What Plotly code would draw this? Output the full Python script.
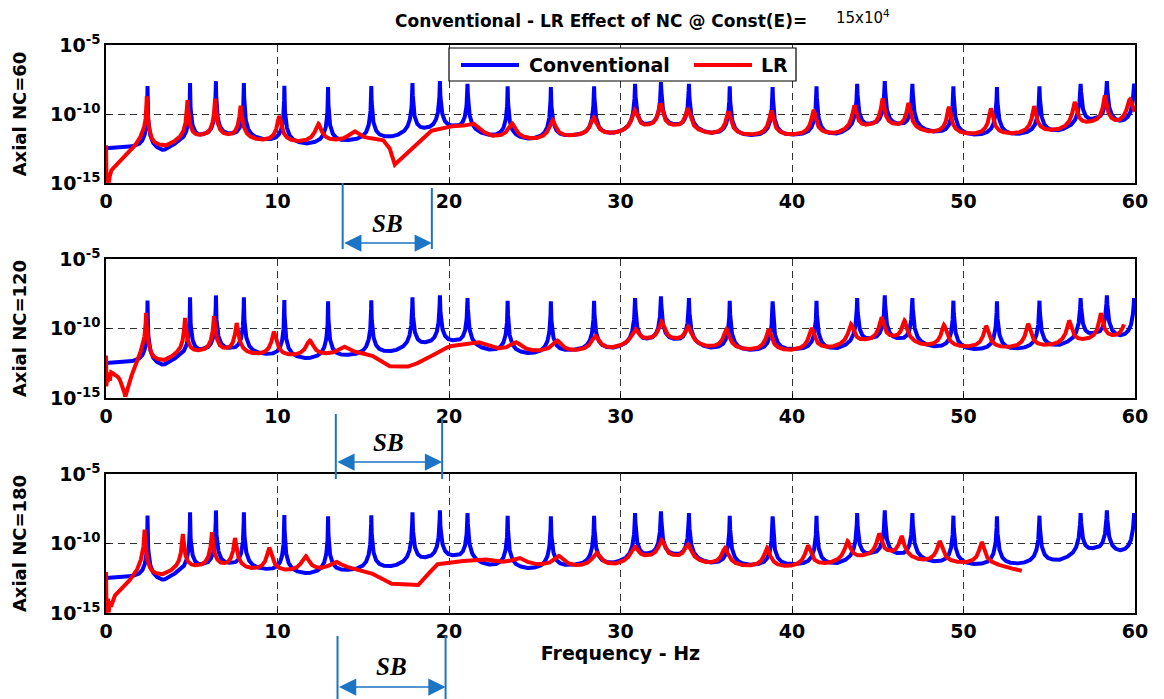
import numpy as np
import plotly.graph_objects as go

# ---------------- data (log10 of amplitude) ----------------
freq_ticks = [0, 10, 20, 30, 40, 50, 60]
amp_tickvals = [1e-15, 1e-10, 1e-5]
amp_ticktext = ["10<sup>-15</sup>", "10<sup>-10</sup>", "10<sup>-5</sup>"]
panel_labels = ["Axial NC=60", "Axial NC=120", "Axial NC=180"]
series_names = ["Conventional", "LR"]
sb_left = [13.8, 13.4, 13.5]
sb_right = [19.0, 19.6, 19.8]

# Conventional (same in the three panels)
conv_peak_freq = [2.42, 4.90, 6.41, 8.04, 10.40, 12.95, 15.47, 17.87, 19.47, 21.08, 23.42, 25.94,
                  28.46, 30.85, 32.36, 33.99, 36.37, 38.87, 41.43, 43.80, 45.41, 47.02, 49.41,
                  51.95, 54.43, 56.83, 58.36, 59.95]
conv_peak_level = [-7.98, -7.76, -7.62, -7.76, -7.95, -8.05, -7.98, -7.76, -7.62, -7.81, -8.00, -8.05,
                   -8.00, -7.81, -7.69, -7.81, -8.00, -8.05, -8.00, -7.81, -7.62, -7.81, -8.00,
                   -8.05, -8.00, -7.81, -7.62, -7.81]
conv_base_freq = [0.0, 1.8, 3.35, 4.1, 5.65, 7.2, 9.2, 11.7, 14.2, 16.7, 18.65, 20.3, 22.3, 24.7,
                  27.2, 29.6, 31.6, 33.2, 35.2, 37.6, 40.1, 42.6, 44.6, 46.2, 48.2, 50.7, 53.2,
                  55.6, 57.6, 59.1, 60.0]
conv_base_level = [-12.52, -12.50, -12.80, -12.30, -11.80, -11.70, -12.00, -12.30, -12.05, -11.80,
                   -11.30, -11.15, -11.70, -11.95, -11.70, -11.55, -11.05, -11.05, -11.55, -11.70,
                   -11.65, -11.60, -11.00, -11.00, -11.45, -11.65, -11.60, -11.35, -10.65, -10.80,
                   -10.70]

# LR, NC = 60
lr60_peak_freq = [2.38, 4.75, 6.36, 7.85, 10.10, 12.38, 14.48, 21.42, 23.67, 26.04, 28.44, 30.83,
                  32.33, 33.92, 36.29, 38.79, 41.26, 43.64, 45.28, 46.79, 49.15, 51.60, 54.12,
                  56.48, 58.24, 59.69]
lr60_peak_level = [-8.71, -9.00, -8.88, -9.40, -10.14, -10.71, -11.26, -10.71, -10.67, -10.43, -10.24,
                   -9.71, -9.24, -9.60, -9.83, -9.76, -9.71, -9.36, -8.88, -9.19, -9.48, -9.60,
                   -9.43, -9.12, -8.64, -8.95]
lr60_base_freq = [0.00, 0.03, 0.06, 0.09, 0.13, 0.17, 0.25, 1.00, 1.60, 2.15, 2.70, 3.50, 4.20,
                  5.55, 7.10, 9.00, 11.20, 13.40, 15.50, 16.10, 16.50, 16.84, 18.86, 20.00, 20.90,
                  22.50, 25.00, 27.30, 29.60, 31.60, 33.10, 35.20, 37.50, 40.00, 42.50, 44.50,
                  46.00, 48.00, 50.50, 53.00, 55.50, 57.40, 59.00, 60.00]
lr60_base_level = [-12.30, -15.00, -13.90, -15.00, -14.30, -15.00, -14.20, -13.30, -12.60, -12.00,
                   -12.45, -12.45, -12.10, -11.80, -11.80, -12.05, -12.15, -12.05, -11.90, -11.90,
                   -12.40, -13.71, -11.30, -10.95, -11.10, -11.75, -11.95, -11.70, -11.55, -11.10,
                   -11.10, -11.55, -11.65, -11.65, -11.55, -11.05, -11.05, -11.45, -11.60, -11.55,
                   -11.30, -10.80, -10.80, -10.45]
lr60_end = 60.0

# LR, NC = 120
lr120_peak_freq = [2.34, 4.61, 6.30, 7.62, 9.79, 11.88, 13.88, 21.70, 23.90, 26.30, 28.53, 30.87,
                   32.39, 33.95, 36.18, 38.64, 41.14, 43.44, 45.22, 46.56, 48.86, 51.32, 53.77,
                   56.16, 58.01, 59.50]
lr120_peak_level = [-8.88, -9.24, -9.12, -9.60, -10.24, -10.86, -11.33, -11.00, -11.00, -10.86,
                    -10.53, -10.05, -9.50, -9.86, -10.05, -10.05, -9.98, -9.69, -9.19, -9.43,
                    -9.74, -9.81, -9.67, -9.43, -8.90, -8.90]
lr120_base_freq = [0.00, 0.02, 0.06, 0.10, 0.15, 0.22, 0.30, 0.45, 0.75, 1.00, 1.12, 1.22, 1.41,
                   1.80, 2.15, 2.70, 3.40, 4.10, 5.45, 7.00, 8.70, 10.90, 12.80, 14.50, 15.40,
                   16.00, 16.50, 17.50, 18.00, 18.60, 19.24, 20.00, 21.00, 22.80, 25.00, 27.30,
                   29.50, 31.60, 33.20, 35.00, 37.40, 39.90, 42.30, 44.30, 45.90, 47.70, 50.10,
                   52.50, 55.00, 57.10, 58.70, 59.35]
lr120_base_level = [-11.98, -14.20, -13.30, -13.90, -13.20, -13.80, -13.20, -13.30, -13.60, -14.30,
                    -15.00, -14.70, -13.76, -12.70, -12.00, -12.45, -12.45, -12.10, -11.85, -11.80,
                    -12.00, -12.10, -12.00, -11.90, -11.95, -12.40, -12.75, -12.80, -12.65, -12.20,
                    -11.86, -11.35, -11.25, -11.60, -11.75, -11.75, -11.55, -11.00, -11.00, -11.45,
                    -11.65, -11.70, -11.50, -11.05, -10.90, -11.35, -11.45, -11.50, -11.35, -11.00,
                    -10.80, -10.80]
lr120_end = 59.35

# LR, NC = 180
lr180_peak_freq = [2.25, 4.48, 6.18, 7.52, 9.52, 11.63, 13.39, 22.00, 24.06, 26.40, 28.60, 30.83,
                   32.39, 33.93, 36.10, 38.55, 40.93, 43.24, 45.08, 46.39, 48.61, 51.06]
lr180_peak_level = [-9.00, -9.31, -9.19, -9.60, -10.31, -10.90, -11.33, -11.15, -11.05, -10.90,
                    -10.67, -10.24, -9.76, -10.07, -10.31, -10.31, -10.14, -9.83, -9.29, -9.48,
                    -9.83, -9.90]
lr180_base_freq = [0.00, 0.03, 0.06, 0.09, 0.12, 0.16, 0.22, 0.30, 0.45, 1.30, 2.10, 2.60, 3.30,
                   4.00, 5.30, 6.85, 8.50, 10.60, 12.50, 14.00, 14.60, 15.50, 16.53, 18.18, 18.60,
                   19.24, 20.00, 21.00, 23.00, 25.20, 27.40, 29.70, 31.60, 33.10, 35.00, 37.30,
                   39.70, 42.00, 44.20, 45.70, 47.50, 49.80, 51.80, 53.40]
lr180_base_level = [-12.10, -15.00, -13.60, -15.00, -14.00, -15.00, -14.20, -14.60, -13.88, -12.90,
                    -11.95, -12.40, -12.40, -12.10, -11.85, -11.80, -12.00, -12.10, -12.00, -11.90,
                    -11.90, -12.20, -12.93, -13.05, -12.55, -11.55, -11.40, -11.35, -11.50, -11.65,
                    -11.75, -11.65, -11.15, -11.15, -11.55, -11.75, -11.80, -11.60, -11.10, -10.90,
                    -11.35, -11.50, -11.60, -12.00]
lr180_end = 53.4

# ---------------- curve construction: floor level plus resonance peaks ----------------
SHOULDER = 0.55  # Hz, width scale of the resonance skirts


def response(f, peak_f, peak_l, base_f, base_l):
    floor = np.interp(f, base_f, base_l)
    ratio = np.ones_like(f)
    for pf, pl in zip(peak_f, peak_l):
        b0 = np.interp(pf, base_f, base_l)
        R = max(10 ** (pl - b0) - 1.0, 1e-6)
        w = SHOULDER / np.sqrt(R)
        ratio = ratio + R / (1.0 + ((f - pf) / w) ** 2)
    return 10 ** floor * ratio


all_peaks = conv_peak_freq + lr60_peak_freq + lr120_peak_freq + lr180_peak_freq
freq = np.union1d(np.linspace(0, 60, 12001), np.array(all_peaks))

conv_curve = response(freq, conv_peak_freq, conv_peak_level, conv_base_freq, conv_base_level)
lr_sets = [
    (lr60_peak_freq, lr60_peak_level, lr60_base_freq, lr60_base_level, lr60_end),
    (lr120_peak_freq, lr120_peak_level, lr120_base_freq, lr120_base_level, lr120_end),
    (lr180_peak_freq, lr180_peak_level, lr180_base_freq, lr180_base_level, lr180_end),
]

FONT = "DejaVu Sans"
BLUE = "#0000ff"
RED = "#ff0000"
SBC = "#1c74c4"

# The page body adds an 8 px offset; target plot area on the page: x 106..1135, y 45..613
OFF = 8
W, H = 1164, 699
PX0, PX1, PY0, PY1 = 106, 1135, 45, 613
PW, PH = PX1 - PX0, PY1 - PY0
L, T = PX0 - OFF, PY0 - OFF
R_, B = W - L - PW, H - T - PH


def px(x):
    return (x - PX0) / PW


def py(y):
    return (PY1 - y) / PH


domains = [[py(183), py(45)], [py(398), py(259)], [py(613), py(474)]]

fig = go.Figure()
for i, (pf, pl, bf, bl, fend) in enumerate(lr_sets):
    xa = "x" if i == 0 else f"x{i + 1}"
    ya = "y" if i == 0 else f"y{i + 1}"
    fig.add_trace(go.Scatter(x=freq, y=conv_curve, mode="lines", name=series_names[0],
                             line=dict(color=BLUE, width=4), xaxis=xa, yaxis=ya,
                             showlegend=False, hoverinfo="skip"))
    mask = freq <= fend
    lr_curve = response(freq[mask], pf, pl, bf, bl)
    fig.add_trace(go.Scatter(x=freq[mask], y=lr_curve, mode="lines", name=series_names[1],
                             line=dict(color=RED, width=4), xaxis=xa, yaxis=ya,
                             showlegend=False, hoverinfo="skip"))

axis_common = dict(showline=True, linecolor="black", linewidth=1.5, mirror=True,
                   ticks="inside", ticklen=4, tickcolor="black", automargin=False,
                   showgrid=True, gridcolor="#333333", gridwidth=1, griddash="7px,5px",
                   zeroline=False)

layout = dict(width=W, height=H, margin=dict(l=L, r=R_, t=T, b=B, autoexpand=False),
              paper_bgcolor="white", plot_bgcolor="white",
              font=dict(family=FONT, color="black"))
for i in range(3):
    sx = "" if i == 0 else str(i + 1)
    yname = "y" if i == 0 else f"y{i + 1}"
    xname = "x" if i == 0 else f"x{i + 1}"
    layout[f"xaxis{sx}"] = dict(axis_common, domain=[0, 1], anchor=yname, range=[0, 60],
                                tickvals=freq_ticks,
                                tickfont=dict(family=FONT, size=19, weight="bold", color="black"))
    layout[f"yaxis{sx}"] = dict(axis_common, domain=domains[i], anchor=xname, type="log",
                                range=[-15, -5], tickvals=amp_tickvals, ticktext=amp_ticktext,
                                tickfont=dict(family=FONT, size=19, weight="bold", color="black"),
                                title=dict(text=panel_labels[i], standoff=19,
                                           font=dict(family=FONT, size=18, weight="bold")))
layout["xaxis3"]["title"] = dict(text="Frequency - Hz", standoff=6,
                                 font=dict(family=FONT, size=19, weight="bold"))
fig.update_layout(**layout)

shapes = []
annotations = []
# title
annotations.append(dict(xref="paper", yref="paper", x=px(393), y=py(21), xanchor="left",
                        yanchor="middle", showarrow=False,
                        text="Conventional - LR Effect of NC @ Const(E)=",
                        font=dict(family=FONT, size=17, weight="bold")))
annotations.append(dict(xref="paper", yref="paper", x=px(834), y=py(21), xanchor="left",
                        yanchor="bottom", yshift=-8, showarrow=False, text="15x10<sup>4</sup>",
                        font=dict(family=FONT, size=15)))

# manual legend box
shapes.append(dict(type="rect", xref="paper", yref="paper", x0=px(449), x1=px(796),
                   y0=py(81), y1=py(48), line=dict(color="black", width=1.2),
                   fillcolor="white", layer="above"))
shapes.append(dict(type="line", xref="paper", yref="paper", x0=px(461), x1=px(519),
                   y0=py(65), y1=py(65), line=dict(color=BLUE, width=4), layer="above"))
shapes.append(dict(type="line", xref="paper", yref="paper", x0=px(694), x1=px(752),
                   y0=py(65), y1=py(65), line=dict(color=RED, width=4), layer="above"))
annotations.append(dict(xref="paper", yref="paper", x=px(527), y=py(65), xanchor="left",
                        yanchor="middle", showarrow=False, text=series_names[0],
                        font=dict(family=FONT, size=19, weight="bold")))
annotations.append(dict(xref="paper", yref="paper", x=px(759), y=py(65), xanchor="left",
                        yanchor="middle", showarrow=False, text=series_names[1],
                        font=dict(family=FONT, size=19, weight="bold")))

# SB (stop band) markers below each panel: (line top L, line top R, line bottom, arrow y, text y)
sb_px = [(183, 188, 249, 243, 224), (414, 418, 479, 462, 442), (636, 636, 699, 687, 666)]
for i in range(3):
    tl, tr, lb, ay, ty = sb_px[i]
    shapes.append(dict(type="line", xref="x", yref="paper", x0=sb_left[i], x1=sb_left[i],
                       y0=py(tl), y1=py(lb), line=dict(color=SBC, width=2)))
    shapes.append(dict(type="line", xref="x", yref="paper", x0=sb_right[i], x1=sb_right[i],
                       y0=py(tr), y1=py(lb), line=dict(color=SBC, width=2)))
    annotations.append(dict(xref="x", yref="paper", x=sb_right[i], y=py(ay),
                            axref="x", ayref="pixel", ax=sb_left[i], ay=0,
                            showarrow=True, arrowside="end+start", arrowhead=2,
                            arrowsize=2.3, arrowwidth=1.5, arrowcolor=SBC, text=""))
    annotations.append(dict(xref="x", yref="paper", x=(sb_left[i] + sb_right[i]) / 2, y=py(ty),
                            showarrow=False, text="<b><i>SB</i></b>",
                            font=dict(family="Liberation Serif", size=25, color="black"),
                            xanchor="center", yanchor="middle"))

fig.update_layout(shapes=shapes, annotations=annotations)
fig.write_html("out.html")
